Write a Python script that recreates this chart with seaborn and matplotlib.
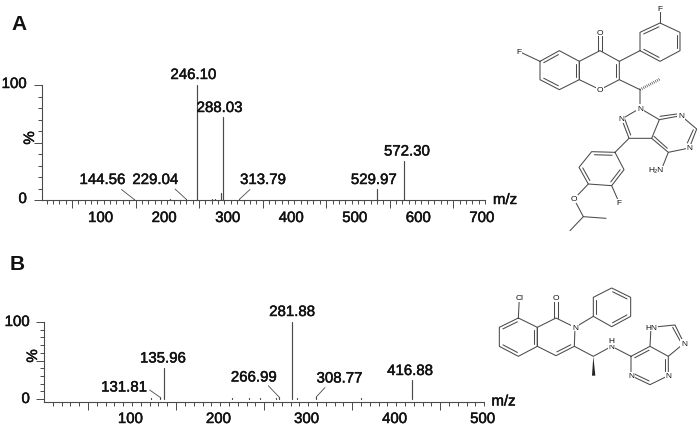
# Espectros de masas A y B con las dos estructuras a la derecha
import pandas as pd
import seaborn as sns
import matplotlib.pyplot as plt
import matplotlib.patheffects as pe
from matplotlib.patches import Polygon

# Datos del panel A
mz_a = [60, 100, 122, 147.6, 165, 190, 205, 212, 229.5, 246.1, 262, 270, 275, 284.5, 288.03,
        313.5, 370, 475, 530, 572.3]
int_a = [0.3, 0.3, 0.3, 0.6, 0.4, 0.4, 0.5, 0.4, 0.8, 100, 0.4, 0.8, 0.6, 6, 72,
         0.6, 0.4, 0.4, 10, 34]
labels_a = ['246.10', '288.03', '144.56', '229.04', '313.79', '529.97', '572.30']
label_mz_a = [246.1, 288.03, 147.6, 229.5, 313.5, 530, 572.3]
label_int_a = [100, 72, 0.6, 0.8, 0.6, 10, 34]

# Datos del panel B
mz_b = [122, 131.5, 135.96, 213, 233, 245, 263, 267, 281.88, 287, 309, 360, 417.5]
int_b = [1.2, 2.5, 40, 1, 1, 1, 1, 2.5, 100, 1, 2.5, 1, 24.7]
labels_b = ['281.88', '135.96', '131.81', '266.99', '308.77', '416.88']
label_mz_b = [281.88, 135.96, 131.5, 267, 309, 417.5]
label_int_b = [100, 40, 2.5, 2.5, 2.5, 24.7]

ticks_a = [100, 200, 300, 400, 500, 600, 700]
ticks_b = [100, 200, 300, 400, 500]

W, H = 699, 431
GRIS = '#4a4a4a'
NEGRO = '#111111'

sns.set_theme(style='ticks')
plt.rcParams['font.family'] = ['Liberation Sans', 'DejaVu Sans']

fig = plt.figure(figsize=(W / 100, H / 100), dpi=100, facecolor='white')


def ejes(left, right, top, bottom):
    return fig.add_axes([left / W, 1 - bottom / H, (right - left) / W, (bottom - top) / H],
                        facecolor='none')


ax_a = ejes(41.5, 485, 86, 201)
ax_b = ejes(44, 484.3, 323, 402.7)
# Capa en píxeles para textos y estructuras
over = fig.add_axes([0, 0, 1, 1], facecolor='none')
over.set_xlim(0, W)
over.set_ylim(H, 0)
over.axis('off')

grueso = [pe.withStroke(linewidth=0.35, foreground=NEGRO)]


def texto(x, y, s, size=10.8, **kw):
    kw.setdefault('ha', 'center')
    kw.setdefault('va', 'center')
    over.text(x, y, s, fontsize=size, color=NEGRO, path_effects=grueso, **kw)


def espectro(ax, mz, inten, xlim, ylim, ticks, shift, lab_y):
    tabla = pd.DataFrame({'mz': [m for m in mz for _ in (0, 1)],
                          'y': [v for i in inten for v in (0, i)],
                          'pico': [k for k in range(len(mz)) for _ in (0, 1)]})
    sns.lineplot(data=tabla, x='mz', y='y', units='pico', estimator=None, ax=ax,
                 color=GRIS, lw=0.85, legend=False)
    ax.set_xlim(*xlim)
    ax.set_ylim(*ylim)
    ax.set_xlabel('')
    ax.set_ylabel('')
    ax.set_xticks([m for m in range(50, xlim[1], 100)])
    ax.set_xticks([m for m in range(10, xlim[1] + 1, 10)], minor=True)
    ax.set_yticks([0, 50, 100])
    ax.set_yticks(range(0, 101, 10), minor=True)
    ax.set_xticklabels([])
    ax.set_yticklabels([])
    ax.tick_params(which='major', length=5.8, width=0.7, color=GRIS)
    ax.tick_params(which='minor', length=2.8, width=0.7, color=GRIS)
    sns.despine(ax=ax)
    for s in ('left', 'bottom'):
        ax.spines[s].set_linewidth(0.8)
        ax.spines[s].set_color(GRIS)
    # Las etiquetas del eje van algo corridas a la izquierda de su posición
    for t in ticks:
        x, _ = over.transData.inverted().transform(ax.transData.transform((t, 0)))
        texto(x + shift, lab_y, str(t))


espectro(ax_a, mz_a, int_a, (2, 700), (0, 100), ticks_a, -3, 219)
espectro(ax_b, mz_b, int_b, (0, 500), (-3.5, 100), ticks_b, -1.5, 420)

# Posiciones de las etiquetas de picos, en píxeles
pos_a = [(193.5, 76), (219.5, 109), (102.5, 181), (155.5, 181), (263, 181), (374, 181), (407, 152.5)]
pos_b = [(292, 313), (163, 359.5), (124, 388.5), (254, 378.5), (339.5, 379.5), (410, 372)]
for (x, y), s in zip(pos_a, labels_a):
    texto(x, y, s)
for (x, y), s in zip(pos_b, labels_b):
    texto(x, y, s)

# Líneas guía desde la etiqueta hasta el pico
guias_a = {2: (121.5, 190.5), 3: (175, 190), 4: (250, 190.5)}
guias_b = {2: (149.7, 391), 3: (268.3, 386.7), 4: (325, 388.5)}
for ax, guias, lm, li in ((ax_a, guias_a, label_mz_a, label_int_a), (ax_b, guias_b, label_mz_b, label_int_b)):
    for k, p in guias.items():
        ax.annotate('', xy=(lm[k], li[k]), xytext=p, textcoords=over.transData,
                    arrowprops=dict(arrowstyle='-', color=GRIS, lw=0.6, shrinkA=0, shrinkB=0))

# Ejes: textos
texto(27, 85, '100', ha='right')
texto(27, 200, '0', ha='right')
texto(30, 139, '%', rotation=90)
texto(30, 323, '100', ha='right')
texto(30, 400, '0', ha='right')
texto(33, 357, '%', rotation=90)
texto(505, 201, 'm/z', ha='center')
texto(503.5, 402.5, 'm/z', ha='center')
over.text(19, 24, 'A', fontsize=15, fontweight='bold', color=NEGRO, ha='center', va='center')
over.text(17, 265, 'B', fontsize=15, fontweight='bold', color=NEGRO, ha='center', va='center')


def cadena(puntos, ox, oy, cerrar=False):
    xs = [ox + p[0] / 3 for p in puntos]
    ys = [oy + p[1] / 3 for p in puntos]
    if cerrar:
        xs.append(xs[0])
        ys.append(ys[0])
    over.plot(xs, ys, color=GRIS, lw=0.75, solid_capstyle='round')


def interior(p, q, ox, oy, cx, cy, d=9):
    # Segundo trazo de un doble enlace, hacia el punto (cx, cy)
    mx, my = (p[0] + q[0]) / 2, (p[1] + q[1]) / 2
    dx, dy = q[0] - p[0], q[1] - p[1]
    n = (dx * dx + dy * dy) ** 0.5
    nx, ny = -dy / n, dx / n
    if (cx - mx) * nx + (cy - my) * ny < 0:
        nx, ny = -nx, -ny
    a = (p[0] + dx * 0.12 + nx * d, p[1] + dy * 0.12 + ny * d)
    b = (q[0] - dx * 0.12 + nx * d, q[1] - dy * 0.12 + ny * d)
    cadena([a, b], ox, oy)


def atomo(x, y, s, ox, oy):
    over.text(ox + x / 3, oy + y / 3, s, fontsize=6, color=NEGRO, ha='center', va='center',
              bbox=dict(facecolor='white', edgecolor='none', pad=0.4), zorder=5)


# Estructura A
ox, oy = 480, 0
benzo = [(180, 187), (238, 155), (298, 187), (298, 242), (238, 272), (180, 242)]
pirona = [(298, 187), (360, 155), (418, 187), (418, 242), (360, 272), (298, 242)]
arilo1 = [(480, 155), (480, 100), (540, 72), (600, 100), (600, 155), (540, 187)]
arilo2 = [(405, 460), (335, 458), (297, 505), (325, 555), (395, 560), (432, 512)]
cadena(benzo, ox, oy, True)
cadena(pirona, ox, oy, True)
cadena(arilo1, ox, oy, True)
cadena(arilo2, ox, oy, True)
for p, q in ((benzo[0], benzo[1]), (benzo[2], benzo[3]), (benzo[4], benzo[5])):
    interior(p, q, ox, oy, 238, 215)
interior(pirona[2], pirona[3], ox, oy, 360, 215)
for p, q in ((arilo1[1], arilo1[2]), (arilo1[3], arilo1[4]), (arilo1[5], arilo1[0])):
    interior(p, q, ox, oy, 540, 130)
for p, q in ((arilo2[0], arilo2[1]), (arilo2[2], arilo2[3]), (arilo2[4], arilo2[5])):
    interior(p, q, ox, oy, 365, 510)
for tramo in ([(118, 158), (180, 187)], [(355, 155), (355, 100)], [(365, 155), (365, 100)],
              [(418, 187), (480, 155)], [(540, 72), (540, 28)], [(418, 242), (480, 272), (480, 328)],
              [(480, 328), (425, 360), (447, 418), (515, 418), (538, 362), (480, 328)],
              [(538, 362), (603, 350), (650, 390), (628, 447), (565, 460), (515, 418)],
              [(435, 362), (452, 408)], [(540, 352), (590, 345)], [(640, 392), (622, 432)],
              [(522, 412), (562, 448)], [(565, 460), (545, 510)], [(447, 418), (405, 460)],
              [(395, 560), (418, 612)], [(325, 555), (282, 600), (310, 653), (378, 658)],
              [(310, 653), (270, 695)]):
    cadena(tramo, ox, oy)
# Enlace punteado del metilo
over.plot([ox + 480 / 3, ox + 540 / 3], [oy + 272 / 3, oy + 240 / 3], color=GRIS, lw=2,
          linestyle=(0, (0.25, 0.45)))
for x, y, s in ((118, 158, 'F'), (360, 100, 'O'), (540, 28, 'F'), (360, 272, 'O'), (480, 328, 'N'),
                (425, 360, 'N'), (603, 350, 'N'), (628, 447, 'N'), (527, 513, 'H₂N'),
                (418, 612, 'F'), (282, 600, 'O')):
    atomo(x, y, s, ox, oy)

# Estructura B
ox, oy = 480, 260
anillo1 = [(115, 177), (172, 205), (172, 262), (115, 292), (58, 262), (58, 205)]
anillo2 = [(172, 205), (228, 177), (285, 205), (283, 262), (228, 290), (172, 262)]
fenilo = [(340, 172), (340, 115), (395, 87), (452, 115), (452, 172), (395, 203)]
purina = [(453, 292), (453, 350), (510, 377), (565, 350), (565, 292), (510, 262)]
cadena(anillo1, ox, oy, True)
cadena(anillo2, ox, oy, True)
cadena(fenilo, ox, oy, True)
cadena(purina, ox, oy, True)
for p, q in ((anillo1[0], anillo1[5]), (anillo1[1], anillo1[2]), (anillo1[3], anillo1[4])):
    interior(p, q, ox, oy, 115, 235)
interior(anillo2[3], anillo2[4], ox, oy, 228, 235)
for p, q in ((fenilo[0], fenilo[1]), (fenilo[2], fenilo[3]), (fenilo[4], fenilo[5])):
    interior(p, q, ox, oy, 395, 145)
for p, q in ((purina[0], purina[5]), (purina[1], purina[2]), (purina[3], purina[4])):
    interior(p, q, ox, oy, 510, 320)
for tramo in ([(118, 117), (115, 177)], [(223, 177), (223, 120)], [(233, 177), (233, 120)],
              [(285, 205), (340, 172)], [(283, 262), (340, 292), (395, 262), (453, 292)],
              [(510, 262), (513, 205), (585, 198), (612, 253), (565, 292)],
              [(578, 205), (600, 245)]):
    cadena(tramo, ox, oy)
over.add_patch(Polygon([(ox + 340 / 3, oy + 292 / 3), (ox + 336 / 3, oy + 350 / 3), (ox + 346 / 3, oy + 350 / 3)],
                       closed=True, facecolor='#222222', edgecolor='none'))
for x, y, s in ((118, 117, 'Cl'), (228, 117, 'O'), (285, 205, 'N'), (395, 262, 'N'), (395, 245, 'H'),
                (513, 205, 'HN'), (612, 253, 'N'), (453, 350, 'N'), (565, 350, 'N')):
    atomo(x, y, s, ox, oy)

fig.savefig('out.png', dpi=100, facecolor='white')
